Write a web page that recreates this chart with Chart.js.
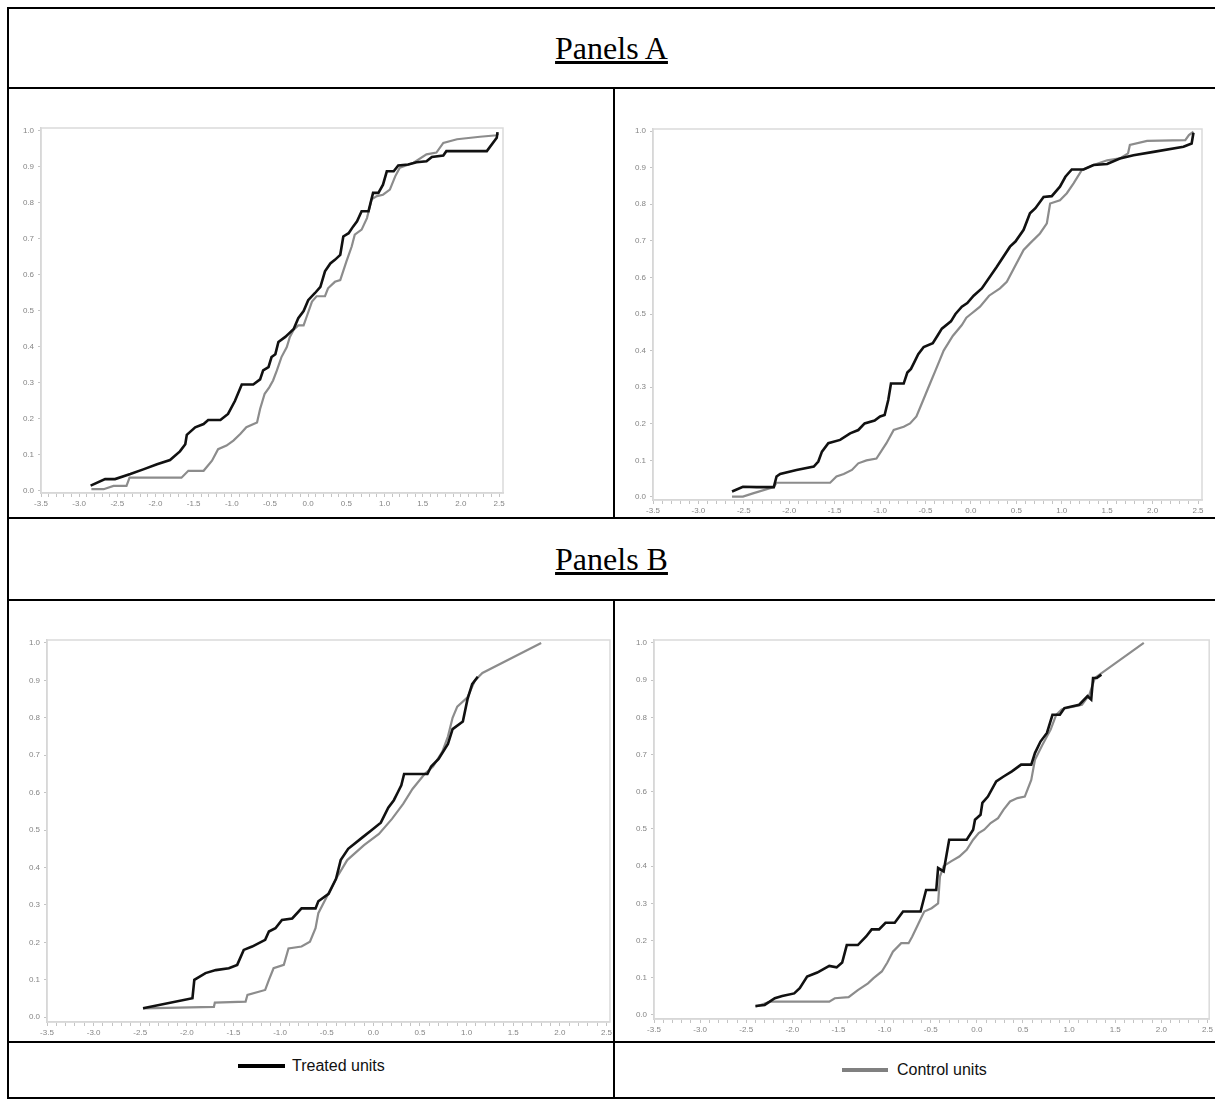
<!DOCTYPE html>
<html><head><meta charset="utf-8">
<script src="https://cdn.jsdelivr.net/npm/chart.js@4.4.1/dist/chart.umd.min.js"></script>
<style>
html,body{margin:0;padding:0;background:#fff;}
#page{position:relative;width:1215px;height:1100px;overflow:hidden;background:#fff;}
.hl{position:absolute;height:2px;background:#000;z-index:5;}
.vl{position:absolute;width:2px;background:#000;z-index:5;}
.title{position:absolute;left:8px;width:1207px;text-align:center;font-family:"Liberation Serif","Times New Roman",serif;font-size:32px;text-decoration:underline;color:#000;}
canvas{position:absolute;}
.leg{position:absolute;font-family:"Liberation Sans",Arial,sans-serif;font-size:16px;line-height:18px;color:#111;}
.sw{position:absolute;height:4px;}
</style></head>
<body><div id="page">
<div class="title" style="top:8px;height:80px;line-height:80px;">Panels A</div>
<div class="title" style="top:519px;height:81px;line-height:81px;">Panels B</div>
<canvas id="cAL" width="598" height="424" style="left:12px;top:92px;"></canvas>
<canvas id="cAR" width="597" height="424" style="left:618px;top:92px;"></canvas>
<canvas id="cBL" width="602" height="436" style="left:12px;top:604px;"></canvas>
<canvas id="cBR" width="597" height="436" style="left:618px;top:604px;"></canvas>
<div class="hl" style="left:7px;top:7px;width:1208px;"></div>
<div class="hl" style="left:7px;top:87px;width:1208px;"></div>
<div class="hl" style="left:7px;top:517px;width:1208px;"></div>
<div class="hl" style="left:7px;top:599px;width:1208px;"></div>
<div class="hl" style="left:7px;top:1041px;width:1208px;"></div>
<div class="hl" style="left:7px;top:1097px;width:1208px;"></div>
<div class="vl" style="left:7px;top:7px;height:1092px;"></div>
<div class="vl" style="left:613px;top:87px;height:432px;"></div>
<div class="vl" style="left:613px;top:599px;height:500px;"></div>
<div class="sw" style="left:238px;top:1064px;width:47px;background:#000;"></div>
<div class="leg" style="left:292px;top:1057px;">Treated units</div>
<div class="sw" style="left:842px;top:1068px;width:46px;background:#808080;"></div>
<div class="leg" style="left:897px;top:1061px;">Control units</div>
</div>
<script>
// ---- tick labels ----
const xTickLabels = ['-3.5','-3.0','-2.5','-2.0','-1.5','-1.0','-0.5','0.0','0.5','1.0','1.5','2.0','2.5'];
const yTickLabels = ['0.0','0.1','0.2','0.3','0.4','0.5','0.6','0.7','0.8','0.9','1.0'];
const seriesNames = ['Treated units','Control units'];

// ---- Panel A, left ----
const aLeftTreatedX = [-2.85,-2.66,-2.53,-2.33,-2.16,-1.98,-1.81,-1.68,-1.61,-1.59,-1.48,-1.37,-1.31,-1.15,-1.05,-0.96,-0.87,-0.72,-0.63,-0.59,-0.52,-0.48,-0.43,-0.39,-0.30,-0.24,-0.19,-0.13,-0.06,0.00,0.09,0.16,0.22,0.29,0.35,0.42,0.46,0.53,0.59,0.64,0.70,0.79,0.85,0.92,0.98,1.03,1.12,1.18,1.31,1.42,1.55,1.62,1.77,1.81,2.34,2.47,2.48];
const aLeftTreatedY = [0.015,0.033,0.033,0.047,0.06,0.074,0.086,0.11,0.13,0.156,0.177,0.186,0.197,0.197,0.214,0.25,0.296,0.296,0.31,0.335,0.344,0.372,0.38,0.414,0.428,0.44,0.45,0.48,0.50,0.53,0.55,0.567,0.61,0.632,0.642,0.656,0.707,0.716,0.735,0.749,0.777,0.777,0.828,0.828,0.851,0.888,0.888,0.904,0.907,0.913,0.916,0.928,0.932,0.944,0.944,0.981,0.997];
const aLeftControlX = [-2.84,-2.68,-2.55,-2.38,-2.34,-1.66,-1.57,-1.37,-1.26,-1.18,-1.07,-0.98,-0.89,-0.81,-0.67,-0.63,-0.57,-0.51,-0.46,-0.41,-0.35,-0.28,-0.24,-0.19,-0.13,-0.06,-0.02,0.05,0.11,0.22,0.26,0.35,0.42,0.50,0.57,0.61,0.70,0.77,0.83,0.90,0.98,1.07,1.14,1.20,1.38,1.55,1.68,1.77,1.95,2.25,2.47,2.49];
const aLeftControlY = [0.005,0.005,0.014,0.014,0.037,0.037,0.056,0.056,0.084,0.116,0.126,0.14,0.158,0.177,0.19,0.228,0.27,0.288,0.307,0.335,0.372,0.40,0.428,0.448,0.46,0.46,0.484,0.526,0.541,0.541,0.563,0.581,0.586,0.637,0.679,0.712,0.726,0.758,0.81,0.819,0.823,0.837,0.874,0.898,0.912,0.935,0.94,0.967,0.977,0.984,0.988,0.993];

// ---- Panel A, right ----
const aRightTreatedX = [-2.63,-2.51,-2.36,-2.17,-2.14,-2.10,-1.92,-1.73,-1.68,-1.64,-1.57,-1.44,-1.33,-1.24,-1.17,-1.06,-1.00,-0.95,-0.91,-0.88,-0.74,-0.70,-0.66,-0.62,-0.58,-0.52,-0.42,-0.37,-0.32,-0.22,-0.17,-0.10,-0.04,0.03,0.12,0.285,0.43,0.49,0.58,0.65,0.71,0.80,0.89,0.98,1.04,1.11,1.24,1.35,1.50,1.64,1.79,2.01,2.34,2.43,2.45];
const aRightTreatedY = [0.015,0.028,0.027,0.027,0.056,0.063,0.074,0.083,0.097,0.124,0.147,0.156,0.174,0.183,0.201,0.209,0.220,0.224,0.265,0.31,0.31,0.34,0.35,0.37,0.39,0.41,0.42,0.44,0.46,0.48,0.50,0.52,0.53,0.55,0.57,0.629,0.684,0.698,0.73,0.775,0.789,0.82,0.822,0.848,0.875,0.895,0.895,0.907,0.91,0.925,0.934,0.943,0.957,0.966,0.995];
const aRightControlX = [-2.63,-2.51,-2.40,-2.17,-2.14,-1.55,-1.48,-1.40,-1.31,-1.24,-1.15,-1.04,-0.93,-0.85,-0.74,-0.67,-0.60,-0.55,-0.50,-0.45,-0.40,-0.35,-0.30,-0.20,-0.10,-0.05,0.00,0.05,0.10,0.20,0.32,0.395,0.58,0.65,0.76,0.836,0.872,0.98,1.056,1.13,1.22,1.35,1.50,1.64,1.73,1.75,1.94,2.36,2.40,2.45];
const aRightControlY = [0.001,0.001,0.01,0.027,0.039,0.039,0.056,0.063,0.074,0.092,0.10,0.105,0.147,0.183,0.192,0.201,0.22,0.25,0.28,0.31,0.34,0.37,0.40,0.44,0.47,0.49,0.50,0.51,0.52,0.55,0.57,0.588,0.675,0.693,0.72,0.748,0.802,0.811,0.83,0.857,0.893,0.907,0.92,0.925,0.939,0.962,0.973,0.975,0.989,0.998];

// ---- Panel B, left ----
const bLeftTreatedX = [-2.47,-1.94,-1.92,-1.80,-1.69,-1.55,-1.46,-1.39,-1.30,-1.16,-1.12,-1.05,-0.98,-0.87,-0.77,-0.62,-0.59,-0.48,-0.40,-0.35,-0.27,-0.12,-0.02,0.08,0.16,0.22,0.26,0.30,0.33,0.58,0.62,0.70,0.80,0.85,0.96,1.01,1.06,1.12];
const bLeftTreatedY = [0.024,0.051,0.10,0.118,0.126,0.131,0.14,0.18,0.189,0.207,0.229,0.238,0.26,0.264,0.291,0.291,0.31,0.33,0.37,0.42,0.45,0.48,0.50,0.52,0.56,0.58,0.60,0.62,0.65,0.65,0.67,0.69,0.73,0.77,0.79,0.85,0.89,0.91];
const bLeftControlX = [-2.47,-1.71,-1.70,-1.37,-1.35,-1.16,-1.12,-1.07,-0.96,-0.91,-0.77,-0.68,-0.62,-0.59,-0.40,-0.28,-0.10,0.06,0.20,0.32,0.42,0.55,0.64,0.74,0.80,0.85,0.90,1.01,1.09,1.17,1.80];
const bLeftControlY = [0.024,0.028,0.039,0.042,0.06,0.073,0.10,0.131,0.14,0.184,0.189,0.202,0.238,0.278,0.37,0.42,0.46,0.49,0.53,0.57,0.61,0.65,0.67,0.71,0.75,0.80,0.83,0.855,0.90,0.92,1.0];

// ---- Panel B, right ----
const bRightTreatedX = [-2.40,-2.30,-2.19,-2.11,-1.98,-1.92,-1.84,-1.73,-1.60,-1.52,-1.46,-1.41,-1.29,-1.20,-1.14,-1.06,-0.99,-0.89,-0.80,-0.61,-0.55,-0.44,-0.42,-0.36,-0.30,-0.11,-0.04,-0.02,0.04,0.06,0.12,0.21,0.29,0.38,0.48,0.59,0.63,0.69,0.76,0.82,0.90,0.95,1.11,1.20,1.24,1.26,1.30,1.35];
const bRightTreatedY = [0.024,0.027,0.045,0.051,0.058,0.072,0.103,0.114,0.132,0.128,0.141,0.188,0.188,0.211,0.23,0.23,0.248,0.248,0.278,0.278,0.336,0.336,0.395,0.386,0.471,0.471,0.498,0.525,0.538,0.57,0.587,0.628,0.641,0.655,0.673,0.673,0.704,0.735,0.758,0.807,0.807,0.825,0.834,0.857,0.848,0.906,0.906,0.915];
const bRightControlX = [-2.40,-2.24,-1.60,-1.54,-1.39,-1.29,-1.18,-1.12,-1.03,-0.97,-0.91,-0.82,-0.74,-0.70,-0.63,-0.57,-0.49,-0.42,-0.40,-0.36,-0.28,-0.19,-0.11,-0.04,0.02,0.08,0.15,0.23,0.29,0.36,0.44,0.52,0.59,0.63,0.71,0.80,0.86,0.92,0.97,1.14,1.22,1.28,1.81];
const bRightControlY = [0.022,0.036,0.036,0.045,0.048,0.067,0.085,0.099,0.117,0.141,0.17,0.193,0.193,0.211,0.247,0.278,0.287,0.30,0.372,0.40,0.413,0.426,0.444,0.471,0.489,0.498,0.516,0.529,0.552,0.574,0.583,0.587,0.632,0.686,0.726,0.767,0.807,0.821,0.825,0.834,0.861,0.906,1.0];

function pts(xs, ys){ const n=Math.min(xs.length,ys.length); const out=[]; for(let i=0;i<n;i++) out.push({x:xs[i], y:ys[i]}); return out; }

const xMajor = xTickLabels.map(Number);
const yMajor = yTickLabels.map(Number);
function labelFor(list, labels, v){ for(let i=0;i<list.length;i++){ if(Math.abs(list[i]-v)<1e-6) return labels[i]; } return ''; }

const framePlugin = {
  id:'frame',
  beforeDatasetsDraw(chart){
    const a = chart.chartArea, c = chart.ctx;
    c.save(); c.strokeStyle = '#dadada'; c.lineWidth = 1.5;
    c.strokeRect(a.left, a.top, a.right-a.left, a.bottom-a.top);
    c.restore();
  }
};

function makeChart(id, geo, treated, control){
  const tickFont = {family:'Liberation Sans', size:8};
  return new Chart(document.getElementById(id), {
    type:'scatter',
    data:{datasets:[
      {label:seriesNames[0], data:treated, showLine:true, borderColor:'#111', borderWidth:2.6, pointRadius:0, tension:0, fill:false},
      {label:seriesNames[1], data:control, showLine:true, borderColor:'#8c8c8c', borderWidth:2.2, pointRadius:0, tension:0, fill:false}
    ]},
    plugins:[framePlugin],
    options:{
      responsive:false, animation:false, devicePixelRatio:1,
      layout:{autoPadding:false, padding:{left:0, right:geo.pr, top:geo.pt, bottom:0}},
      plugins:{legend:{display:false}, title:{display:false}, tooltip:{enabled:false}},
      scales:{
        x:{type:'linear', min:-3.5, max:geo.xmax,
          afterBuildTicks(s){ const t=[]; for(let k=-35;k<=25;k++) t.push({value:k/10}); s.ticks=t; },
          afterFit(s){ s.height = geo.xh; },
          ticks:{font:tickFont, color:'#858585', padding:2, maxRotation:0, autoSkip:false,
            callback:(v)=>labelFor(xMajor, xTickLabels, v)},
          grid:{display:true, drawOnChartArea:false, drawTicks:true, tickLength:4, color:'#c4c4c4', tickColor:'#c4c4c4'},
          border:{display:true, color:'#cfcfcf', width:1.5}
        },
        y:{type:'linear', min:geo.ymin, max:geo.ymax,
          afterBuildTicks(s){ s.ticks = yMajor.map(v=>({value:v})); },
          afterFit(s){ s.width = geo.yw; },
          ticks:{font:tickFont, color:'#858585', padding:4, autoSkip:false,
            callback:(v)=>labelFor(yMajor, yTickLabels, v)},
          grid:{display:true, drawOnChartArea:false, drawTicks:true, tickLength:3, color:'#c4c4c4', tickColor:'#c4c4c4'},
          border:{display:true, color:'#cfcfcf', width:1.5}
        }
      }
    }
  });
}

makeChart('cAL', {pr:107, pt:36, xh:23, yw:29, xmax:2.552, ymin:-0.0056, ymax:1.0083}, pts(aLeftTreatedX,aLeftTreatedY), pts(aLeftControlX,aLeftControlY));
makeChart('cAR', {pr:13, pt:37, xh:16, yw:35, xmax:2.544, ymin:-0.0082, ymax:1.0055}, pts(aRightTreatedX,aRightTreatedY), pts(aRightControlX,aRightControlY));
makeChart('cBL', {pr:0, pt:36, xh:18, yw:35, xmax:2.538, ymin:-0.0126, ymax:1.008}, pts(bLeftTreatedX,bLeftTreatedY), pts(bLeftControlX,bLeftControlY));
makeChart('cBR', {pr:0, pt:36, xh:21, yw:36, xmax:2.519, ymin:-0.0108, ymax:1.008}, pts(bRightTreatedX,bRightTreatedY), pts(bRightControlX,bRightControlY));
</script>
</body></html>
